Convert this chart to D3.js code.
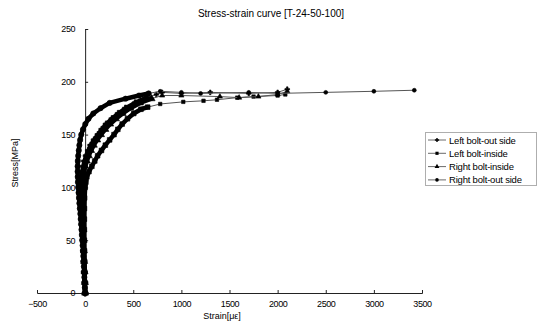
<!DOCTYPE html>
<html><head><meta charset="utf-8">
<script src="https://cdn.jsdelivr.net/npm/d3@7"></script>
<style>
body{margin:0;background:#fff;}
text{font-family:"Liberation Sans",Arial,sans-serif;fill:#000;}
</style></head>
<body><svg id="c" width="541" height="325"></svg>
<script>
const title = "Stress-strain curve [T-24-50-100]";
const xLabel = "Strain[\u03bc\u03b5]";
const yLabel = "Stress[MPa]";
const xTicks = [-500,0,500,1000,1500,2000,2500,3000,3500];
const yTicks = [0,50,100,150,200,250];
const seriesNames = ["Left bolt-out side","Left bolt-inside","Right bolt-inside","Right bolt-out side"];

// Left bolt-out side
const aStrain = [0,-3,-8,-12,-16,-20,-24,-28,-32,-36,-40,-40,-38,-30,-18,-5,12,35,60,95,135,175,220,280,345,420,520,640,740,800,1000,1300,1700,2000,2100];
const aStress = [0,10,20,30,40,50,60,70,80,90,100,105,110,115,120,125,130,135,140,145,150,155,160,165,170,175,180,185,188,190,189,190,189,190,193];
// Left bolt-inside
const bStrain = [0,-3,-5,-6,-7,-8,-8,-8,-7,-5,0,8,18,40,70,100,130,170,210,255,300,340,385,440,505,580,650,780,1020,1230,1370,1580,1750,2000,2080];
const bStress = [0,10,20,30,40,50,60,70,80,90,100,105,110,115,120,125,130,135,140,145,150,155,160,165,170,174,176,179,181,182,183,185,186,187,188];
// Right bolt-inside
const cStrain = [0,-2,-6,-10,-13,-16,-19,-22,-25,-28,-30,-28,-22,-12,2,18,38,62,90,125,165,210,260,320,390,470,570,690,800,1000,1400,1600,1800,2000,2100];
const cStress = [0,10,20,30,40,50,60,70,80,90,100,105,110,115,120,125,130,135,140,145,150,155,160,165,170,175,180,184,187,187,186,185,186,188,191];
// Right bolt-out side
const dStrain = [0,-3,-5,-8,-10,-13,-16,-19,-22,-26,-30,-34,-38,-42,-46,-50,-55,-60,-64,-68,-72,-75,-77,-78,-78,-76,-72,-66,-60,-52,-40,-22,2,35,85,160,255,420,560,660,780,1000,1200,1700,2000,2500,3000,3420];
const dStress = [0,5,10,15,20,25,30,35,40,45,50,55,60,65,70,75,80,85,90,95,100,105,110,115,120,125,130,135,140,145,150,155,160,165,170,175,180,184,187,189,191,190,189,190,189,190,191,192];

const series = [
  {name:seriesNames[0], xs:aStrain, ys:aStress, sym:d3.symbolCross},
  {name:seriesNames[1], xs:bStrain, ys:bStress, sym:d3.symbolSquare},
  {name:seriesNames[2], xs:cStrain, ys:cStress, sym:d3.symbolTriangle},
  {name:seriesNames[3], xs:dStrain, ys:dStress, sym:d3.symbolCircle}
];

const svg = d3.select("#c");
const x = d3.scaleLinear().domain([-500,3500]).range([37,422]);
const y = d3.scaleLinear().domain([0,250]).range([293,29]);

svg.append("text").attr("x",271).attr("y",17).attr("text-anchor","middle")
  .attr("font-size",10).text(title);

const xa = svg.append("g").attr("transform",`translate(0,${y(0)})`)
  .call(d3.axisBottom(x).tickValues(xTicks).tickSize(-3).tickPadding(8).tickFormat(d3.format("d")));
xa.selectAll("text").attr("font-size",9).attr("letter-spacing","-0.4px").attr("font-family","Liberation Sans, Arial, sans-serif").attr("fill","#000");
const ya = svg.append("g").attr("transform",`translate(${x(0)},0)`)
  .call(d3.axisLeft(y).tickValues(yTicks).tickSize(-3).tickPadding(10).tickFormat(d3.format("d")));
ya.selectAll("text").attr("font-size",9).attr("letter-spacing","-0.4px").attr("font-family","Liberation Sans, Arial, sans-serif").attr("fill","#000");
svg.selectAll(".domain").attr("stroke","#222");
svg.selectAll(".tick line").attr("stroke","#222");

svg.append("text").attr("x",222).attr("y",319).attr("text-anchor","middle")
  .attr("font-size",9).text(xLabel);
svg.append("text").attr("transform","translate(18,163) rotate(-90)").attr("text-anchor","middle")
  .attr("font-size",9).text(yLabel);

const line = d3.line().x(d=>x(d[0])).y(d=>y(d[1])).curve(d3.curveMonotoneY);
const thin = d3.line().x(d=>x(d[0])).y(d=>y(d[1]));
series.forEach(s=>{
  const pts = s.xs.map((v,i)=>[v,s.ys[i]]);
  // dense sampled rising portion (appears as a thick band)
  const dense = pts.filter(d=>d[0] <= 700);
  svg.append("path").datum(pts).attr("d",thin).attr("fill","none")
    .attr("stroke","#555").attr("stroke-width",1);
  svg.append("path").datum(dense).attr("d",thin).attr("fill","none")
    .attr("stroke","#000").attr("stroke-width",4.5).attr("stroke-linejoin","round").attr("stroke-linecap","round");
  svg.append("g").selectAll("path").data(pts).join("path")
    .attr("transform",d=>`translate(${x(d[0])},${y(d[1])})`)
    .attr("d",d3.symbol().type(s.sym).size(d=>d[0]<=700?22:12))
    .attr("fill","#000").attr("stroke","#000").attr("stroke-width",0.6);
});

const lg = svg.append("g");
lg.append("rect").attr("x",425.5).attr("y",132.5).attr("width",111).attr("height",53)
  .attr("fill","#fff").attr("stroke","#333").attr("stroke-width",0.8).attr("stroke-dasharray","1,1");
series.forEach((s,i)=>{
  const yy = 140 + i*13.3;
  lg.append("line").attr("x1",428).attr("x2",446).attr("y1",yy).attr("y2",yy)
    .attr("stroke","#444").attr("stroke-width",0.8);
  lg.append("path").attr("transform",`translate(437,${yy})`)
    .attr("d",d3.symbol().type(s.sym).size(10)).attr("fill","#000");
  lg.append("text").attr("x",449).attr("y",yy+3.5).attr("font-size",9.5)
    .attr("letter-spacing","-0.2px").text(s.name);
});
</script></body></html>
